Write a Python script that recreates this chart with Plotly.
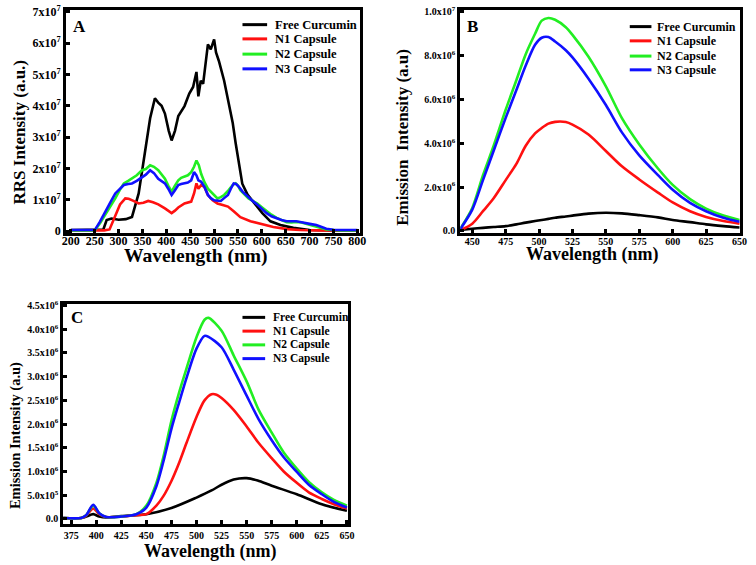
import plotly.graph_objects as go

W, H = 756, 565
FONT = "Liberation Serif"

# ---------------- Panel A (RRS, units of 1e7) ----------------
A_black_x = [200, 250, 268, 275, 285, 300, 315, 328, 342, 355, 366, 376, 383, 390, 397, 405, 411, 418, 425, 438, 448, 456, 463, 467, 472, 477, 487, 493, 498, 500, 504, 510, 521, 531, 539, 545, 552, 559, 570, 587, 601, 618, 639, 666, 700, 750, 800]
A_black_y = [0.03, 0.03, 0.05, 0.35, 0.4, 0.36, 0.38, 0.45, 1.2, 2.5, 3.6, 4.24, 4.1, 4.0, 3.75, 3.2, 2.89, 3.2, 3.67, 3.99, 4.39, 4.6, 5.08, 4.3, 4.8, 4.7, 5.96, 5.8, 6.07, 6.12, 5.7, 5.43, 4.8, 4.08, 3.45, 2.82, 2.1, 1.51, 1.16, 0.85, 0.57, 0.31, 0.19, 0.1, 0.03, 0.02, 0.02]

A_red_x = [200, 270, 281, 292, 303, 314, 321, 330, 342, 352, 362, 372, 383, 397, 411, 418, 425, 438, 452, 458, 463, 467, 473, 480, 487, 497, 507, 518, 529, 541, 555, 576, 597, 624, 653, 680, 720, 800]
A_red_y = [0.02, 0.02, 0.05, 0.45, 0.85, 1.04, 1.03, 0.97, 0.88, 0.9, 0.96, 0.92, 0.85, 0.72, 0.57, 0.65, 0.75, 0.88, 0.94, 1.2, 1.52, 1.35, 1.47, 1.4, 1.15, 0.98, 0.88, 0.83, 0.78, 0.63, 0.44, 0.31, 0.23, 0.13, 0.06, 0.03, 0.02, 0.02]

A_green_x = [200, 250, 261, 272, 283, 293, 302, 311, 320, 328, 338, 349, 357, 366, 374, 383, 390, 397, 404, 411, 418, 425, 431, 438, 445, 452, 458, 463, 468, 473, 480, 487, 493, 500, 507, 514, 521, 530, 539, 545, 550, 555, 563, 572, 581, 590, 600, 610, 620, 631, 641, 652, 662, 672, 683, 693, 703, 714, 725, 735, 750, 763, 800]
A_green_y = [0.02, 0.02, 0.25, 0.52, 0.8, 1.04, 1.3, 1.52, 1.6, 1.67, 1.78, 1.94, 1.98, 2.1, 2.05, 1.94, 1.8, 1.67, 1.45, 1.26, 1.45, 1.62, 1.7, 1.73, 1.78, 1.88, 2.05, 2.25, 2.1, 1.82, 1.55, 1.35, 1.26, 1.15, 1.04, 1.08, 1.15, 1.3, 1.47, 1.52, 1.45, 1.3, 1.18, 1.04, 0.96, 0.88, 0.76, 0.63, 0.52, 0.42, 0.35, 0.28, 0.27, 0.29, 0.27, 0.23, 0.18, 0.13, 0.09, 0.05, 0.03, 0.02, 0.02]

A_blue_x = [200, 250, 261, 272, 283, 293, 302, 311, 320, 328, 338, 349, 357, 366, 374, 383, 390, 397, 404, 411, 418, 425, 431, 438, 445, 452, 458, 463, 467, 473, 480, 487, 493, 500, 507, 514, 521, 529, 535, 541, 546, 552, 560, 570, 580, 590, 600, 610, 620, 631, 641, 652, 662, 672, 683, 693, 703, 714, 725, 735, 750, 763, 800]
A_blue_y = [0.03, 0.03, 0.3, 0.63, 0.92, 1.2, 1.35, 1.47, 1.5, 1.52, 1.6, 1.73, 1.8, 1.94, 1.85, 1.67, 1.6, 1.52, 1.35, 1.15, 1.3, 1.47, 1.5, 1.52, 1.55, 1.62, 1.88, 1.78, 1.62, 1.57, 1.4, 1.15, 1.05, 0.98, 0.96, 0.96, 1.05, 1.15, 1.35, 1.52, 1.5, 1.41, 1.25, 1.1, 0.97, 0.85, 0.7, 0.57, 0.47, 0.4, 0.35, 0.31, 0.31, 0.31, 0.28, 0.26, 0.22, 0.19, 0.14, 0.07, 0.04, 0.03, 0.03]

A_tickvals = [0, 1, 2, 3, 4, 5, 6, 7]
A_ticktext = ["0", "1x10<sup>7</sup>", "2x10<sup>7</sup>", "3x10<sup>7</sup>", "4x10<sup>7</sup>",
              "5x10<sup>7</sup>", "6x10<sup>7</sup>", "7x10<sup>7</sup>"]
A_xticks = [200, 250, 300, 350, 400, 450, 500, 550, 600, 650, 700, 750, 800]

# ---------------- Panel B (emission, units of 1e6) ----------------
B_x = [441, 450, 458, 466, 475, 483, 490, 497, 502, 507, 512, 520, 525, 537, 550, 562, 575, 589, 600, 613, 625, 638, 650]
B_black = [0.05, 0.1, 0.14, 0.18, 0.22, 0.3, 0.38, 0.45, 0.5, 0.55, 0.6, 0.66, 0.7, 0.79, 0.83, 0.8, 0.72, 0.62, 0.5, 0.4, 0.3, 0.22, 0.16]
B_red = [0.03, 0.33, 0.9, 1.49, 2.32, 3.06, 3.89, 4.45, 4.7, 4.9, 4.98, 4.97, 4.85, 4.4, 3.65, 2.95, 2.35, 1.75, 1.3, 0.9, 0.64, 0.45, 0.33]
B_green = [0.1, 1.05, 2.54, 3.89, 5.53, 6.88, 8.07, 9.0, 9.6, 9.72, 9.64, 9.3, 8.95, 7.95, 6.6, 5.15, 3.95, 2.85, 2.1, 1.45, 1.02, 0.7, 0.5]
B_blue = [0.08, 0.97, 2.32, 3.66, 5.16, 6.43, 7.55, 8.5, 8.82, 8.85, 8.65, 8.25, 7.92, 6.95, 5.75, 4.5, 3.45, 2.55, 1.88, 1.28, 0.9, 0.6, 0.42]

B_tickvals = [0, 2, 4, 6, 8, 10]
B_ticktext = ["0.0", "2.0x10<sup>6</sup>", "4.0x10<sup>6</sup>", "6.0x10<sup>6</sup>",
              "8.0x10<sup>6</sup>", "1.0x10<sup>7</sup>"]
B_xticks = [450, 475, 500, 525, 550, 575, 600, 625, 650]

# ---------------- Panel C (emission, units of 1e6) ----------------
C_black_x = [367, 385, 390, 397, 403, 410, 425, 450, 475, 500, 515, 525, 537, 550, 561, 575, 600, 625, 650]
C_black = [0.02, 0.02, 0.05, 0.1, 0.05, 0.03, 0.06, 0.1, 0.23, 0.45, 0.6, 0.72, 0.83, 0.86, 0.81, 0.7, 0.52, 0.31, 0.17]

C_x = [367, 385, 390, 397, 403, 410, 425, 440, 450, 460, 467, 475, 483, 490, 500, 508, 512, 525, 537, 550, 562, 575, 587, 600, 612, 625, 637, 650]
C_green = [0.02, 0.02, 0.08, 0.28, 0.12, 0.04, 0.05, 0.1, 0.28, 0.76, 1.31, 2.07, 2.69, 3.17, 3.83, 4.2, 4.24, 3.97, 3.45, 2.9, 2.3, 1.82, 1.4, 1.06, 0.78, 0.56, 0.4, 0.28]
C_blue = [0.02, 0.02, 0.08, 0.3, 0.12, 0.04, 0.05, 0.1, 0.24, 0.69, 1.21, 1.9, 2.48, 2.97, 3.59, 3.86, 3.84, 3.62, 3.15, 2.6, 2.1, 1.66, 1.3, 0.99, 0.72, 0.52, 0.36, 0.24]

C_red_x = [367, 385, 390, 397, 403, 410, 425, 440, 450, 460, 467, 475, 483, 490, 500, 508, 515, 520, 525, 537, 550, 562, 575, 587, 600, 612, 625, 637, 650]
C_red = [0.02, 0.02, 0.07, 0.22, 0.1, 0.04, 0.05, 0.08, 0.1, 0.28, 0.48, 0.8, 1.2, 1.6, 2.15, 2.5, 2.63, 2.62, 2.55, 2.3, 1.95, 1.6, 1.28, 1.0, 0.76, 0.56, 0.42, 0.31, 0.22]

C_tickvals = [0, 0.5, 1, 1.5, 2, 2.5, 3, 3.5, 4, 4.5]
C_ticktext = ["0.0", "5.0x10<sup>5</sup>", "1.0x10<sup>6</sup>", "1.5x10<sup>6</sup>", "2.0x10<sup>6</sup>",
              "2.5x10<sup>6</sup>", "3.0x10<sup>6</sup>", "3.5x10<sup>6</sup>", "4.0x10<sup>6</sup>", "4.5x10<sup>6</sup>"]
C_xticks = [375, 400, 425, 450, 475, 500, 525, 550, 575, 600, 625, 650]

names = ["Free Curcumin", "N1 Capsule", "N2 Capsule", "N3 Capsule"]
colors = ["#000000", "#ff1010", "#22ee22", "#1010ff"]

fig = go.Figure()

def add(x, y, i, ax, shape="linear"):
    fig.add_trace(go.Scatter(x=x, y=y, mode="lines", name=names[i],
                             line=dict(color=colors[i], width=2.6, shape=shape, smoothing=0.8),
                             xaxis="x" + ax, yaxis="y" + ax, showlegend=False))

add(A_black_x, A_black_y, 0, "")
add(A_red_x, A_red_y, 1, "")
add(A_green_x, A_green_y, 2, "")
add(A_blue_x, A_blue_y, 3, "")

add(B_x, B_black, 0, "2", "spline")
add(B_x, B_red, 1, "2", "spline")
add(B_x, B_green, 2, "2", "spline")
add(B_x, B_blue, 3, "2", "spline")

add(C_black_x, C_black, 0, "3", "spline")
add(C_red_x, C_red, 1, "3", "spline")
add(C_x, C_green, 2, "3", "spline")
add(C_x, C_blue, 3, "3", "spline")

def px(x):
    return x / W

def py(y):
    return 1 - y / H

def xax(domain, rng, ticks, anchor, size, standoff):
    return dict(domain=domain, range=rng, tickvals=ticks, ticktext=[str(t) for t in ticks],
                showline=True, linewidth=3, linecolor="black", mirror=True,
                ticks="inside", ticklen=4, tickwidth=3, tickcolor="black",
                showgrid=False, zeroline=False, anchor=anchor, ticklabelstandoff=standoff,
                tickfont=dict(family=FONT, size=size, color="black", weight="bold"))

def yax(domain, rng, vals, text, anchor, size, standoff):
    return dict(domain=domain, range=rng, tickvals=vals, ticktext=text,
                showline=True, linewidth=3, linecolor="black", mirror=True,
                ticks="inside", ticklen=4, tickwidth=3, tickcolor="black",
                showgrid=False, zeroline=False, anchor=anchor, ticklabelstandoff=standoff,
                tickfont=dict(family=FONT, size=size, color="black", weight="bold"))

fig.update_layout(
    width=W, height=H, margin=dict(l=0, r=0, t=0, b=0),
    paper_bgcolor="white", plot_bgcolor="white", showlegend=False,
    xaxis=xax([px(63), px(361)], [190, 805], A_xticks, "y", 12, -5),
    yaxis=yax([py(232), py(5)], [-0.06, 7.06], A_tickvals, A_ticktext, "x", 12, 0),
    xaxis2=xax([px(463), px(747)], [441, 650.5], B_xticks, "y2", 10, -3),
    yaxis2=yax([py(232), py(5)], [-0.09, 10.09], B_tickvals, B_ticktext, "x2", 10, 0),
    xaxis3=xax([px(60), px(349)], [367, 651], C_xticks, "y3", 10, 0),
    yaxis3=yax([py(528), py(304)], [-0.1, 4.54], C_tickvals, C_ticktext, "x3", 10, 0),
)

def ann(text, x, y, size, angle=0, xanchor="center"):
    fig.add_annotation(text=text, x=px(x), y=py(y), xref="paper", yref="paper",
                       showarrow=False, textangle=angle, xanchor=xanchor, yanchor="middle",
                       font=dict(family=FONT, size=size, color="black", weight="bold"))

ann("Wavelength (nm)", 195, 256, 19.5)
ann("RRS Intensity (a.u.)", 16, 129, 17, -90)
ann("Wavelength (nm)", 597, 254, 18)
ann("Emission  Intensity (a.u)", 405, 135, 17, -90)
ann("Wavelength (nm)", 210, 556, 18)
ann("Emission Intensity (a.u)", 11, 438, 14.5, -90)
ann("A", 77, 22, 17)
ann("B", 475, 22, 17)
ann("C", 74, 318, 17)

# legends (drawn as line samples + text)
def legend(x0, x1, xt, ys, size):
    for i, y in enumerate(ys):
        fig.add_shape(type="line", xref="paper", yref="paper", x0=px(x0), x1=px(x1),
                      y0=py(y), y1=py(y), line=dict(color=colors[i], width=3))
        fig.add_annotation(text=names[i], x=px(xt), y=py(y), xref="paper", yref="paper",
                           showarrow=False, xanchor="left", yanchor="middle",
                           font=dict(family=FONT, size=size, color="black", weight="bold"))

legend(242, 267, 273, [20, 34.5, 50, 65], 12.5)
legend(635, 657, 661, [22, 36.5, 52, 66], 12)
legend(242, 265, 271, [318, 332, 346, 360], 11.5)

fig.write_html("out.html", config={"displayModeBar": False},
               post_script="document.body.style.margin='0';document.body.style.padding='0';")
